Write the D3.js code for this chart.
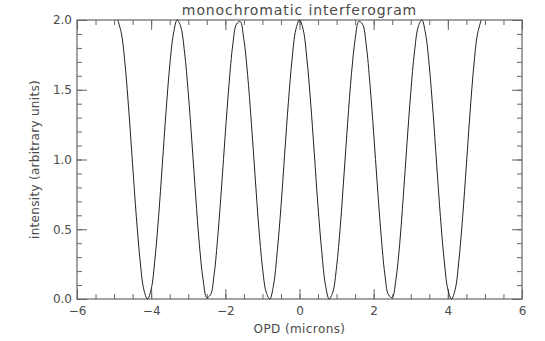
<!DOCTYPE html>
<meta charset="utf-8">
<style>
  body { margin: 0; background: #fff; }
  text { font-family: "DejaVu Sans", sans-serif; fill: #4a4a4a; }
</style>
<svg width="545" height="341"></svg>

<script src="https://d3js.org/d3.v7.min.js"></script>
<script>

// OPD samples start at -4.9 microns and step by 0.1
var opdStart = -4.9
var opdStep = 0.1

// intensity at each OPD sample, -4.9 ... 4.9
var intensity = [
        2.00, 1.90, 1.67, 1.34, 0.96, 0.59, 0.28, 0.07, 0.00,
  0.07, 0.28, 0.59, 0.96, 1.34, 1.67, 1.90, 2.00, 1.95, 1.77,
  1.48, 1.12, 0.74, 0.39, 0.14, 0.01, 0.03, 0.18, 0.46, 0.81,
  1.19, 1.54, 1.82, 1.97, 1.99, 1.86, 1.61, 1.27, 0.89, 0.52,
  0.23, 0.05, 0.00, 0.10, 0.34, 0.66, 1.04, 1.41, 1.72, 1.93,
  2.00,
  1.93, 1.72, 1.41, 1.04, 0.66, 0.34, 0.10, 0.00, 0.05, 0.23,
  0.52, 0.89, 1.27, 1.61, 1.86, 1.99, 1.97, 1.82, 1.54, 1.19,
  0.81, 0.46, 0.18, 0.03, 0.01, 0.14, 0.39, 0.74, 1.12, 1.48,
  1.77, 1.95, 2.00, 1.90, 1.67, 1.34, 0.96, 0.59, 0.28, 0.07,
  0.00, 0.07, 0.28, 0.59, 0.96, 1.34, 1.67, 1.90, 2.00
]

var xTicks = [-6, -4, -2, 0, 2, 4, 6]
var yTicks = [0.0, 0.5, 1.0, 1.5, 2.0]

var points = intensity.map(function (v, i) {
  return { opd: opdStart + i * opdStep, value: v }
})

var margin = { top: 20, right: 23, bottom: 42, left: 77 }
var width = 545 - margin.left - margin.right
var height = 341 - margin.top - margin.bottom

var svg = d3.select('svg')
var g = svg.append('g')
  .attr('transform', 'translate(' + margin.left + ',' + margin.top + ')')

var x = d3.scaleLinear().domain([-6, 6]).range([0, width])
var y = d3.scaleLinear().domain([0, 2]).range([height, 0])

var axisColor = '#666'

// minor ticks first, then major ticks with labels, on all four sides
function styleAxis(sel) {
  sel.select('.domain').remove()
  sel.selectAll('line').attr('stroke', axisColor)
  sel.selectAll('text').style('font-size', '12px').attr('fill', '#4a4a4a')
}

var xMinor = d3.range(-6, 6.01, 0.5)
var yMinor = d3.range(0, 2.01, 0.1)

g.append('g').attr('transform', 'translate(0,' + height + ')')
  .call(d3.axisTop(x).tickValues(xMinor).tickSize(5).tickFormat(''))
  .call(styleAxis)
g.append('g').attr('transform', 'translate(0,' + height + ')')
  .call(d3.axisTop(x).tickValues(xTicks).tickSize(10).tickFormat(''))
  .call(styleAxis)
g.append('g').attr('transform', 'translate(0,' + height + ')')
  .call(d3.axisBottom(x).tickValues(xTicks).tickSize(0).tickPadding(7)
    .tickFormat(function (d) { return d < 0 ? '\u2212' + (-d) : d }))
  .call(styleAxis)

g.append('g')
  .call(d3.axisBottom(x).tickValues(xMinor).tickSize(5).tickFormat(''))
  .call(styleAxis)
g.append('g')
  .call(d3.axisBottom(x).tickValues(xTicks).tickSize(10).tickFormat(''))
  .call(styleAxis)

g.append('g')
  .call(d3.axisRight(y).tickValues(yMinor).tickSize(5).tickFormat(''))
  .call(styleAxis)
g.append('g')
  .call(d3.axisRight(y).tickValues(yTicks).tickSize(10).tickFormat(''))
  .call(styleAxis)
g.append('g')
  .call(d3.axisLeft(y).tickValues(yTicks).tickSize(0).tickPadding(5)
    .tickFormat(d3.format('.1f')))
  .call(styleAxis)

g.append('g').attr('transform', 'translate(' + width + ',0)')
  .call(d3.axisLeft(y).tickValues(yMinor).tickSize(5).tickFormat(''))
  .call(styleAxis)
g.append('g').attr('transform', 'translate(' + width + ',0)')
  .call(d3.axisLeft(y).tickValues(yTicks).tickSize(10).tickFormat(''))
  .call(styleAxis)

// plot frame
g.append('rect')
  .attr('width', width)
  .attr('height', height)
  .attr('fill', 'none')
  .attr('stroke', axisColor)
  .attr('stroke-width', 1.2)

var line = d3.line()
  .x(function (d) { return x(d.opd) })
  .y(function (d) { return y(d.value) })
  .curve(d3.curveCatmullRom)

g.append('path')
  .datum(points)
  .attr('fill', 'none')
  .attr('stroke', '#222')
  .attr('stroke-width', 1)
  .attr('d', line)

svg.append('text')
  .attr('x', margin.left + width / 2)
  .attr('y', 15)
  .attr('text-anchor', 'middle')
  .style('font-size', '14px')
  .style('letter-spacing', '0.9px')
  .text('monochromatic interferogram')

svg.append('text')
  .attr('x', margin.left + width / 2)
  .attr('y', 333)
  .attr('text-anchor', 'middle')
  .style('font-size', '12px')
  .style('letter-spacing', '0.4px')
  .text('OPD (microns)')

svg.append('text')
  .attr('transform', 'translate(39,' + (margin.top + height / 2) + ') rotate(-90)')
  .attr('text-anchor', 'middle')
  .style('font-size', '12px')
  .style('letter-spacing', '0.3px')
  .text('intensity (arbitrary units)')

</script>
